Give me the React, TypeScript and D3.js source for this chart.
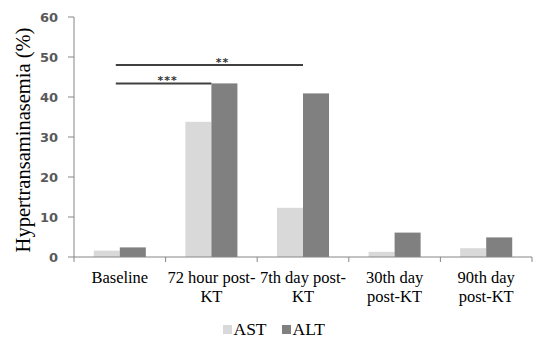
import React from "react";
import * as d3 from "d3";

const categories = ["Baseline", "72 hour post-KT", "7th day post-KT", "30th day post-KT", "90th day post-KT"];
const categoryLines = [["Baseline"], ["72 hour post-", "KT"], ["7th day post-", "KT"], ["30th day", "post-KT"], ["90th day", "post-KT"]];
const series = ["AST", "ALT"];
const astValues = [1.6, 33.8, 12.3, 1.3, 2.2];
const altValues = [2.4, 43.4, 40.9, 6.1, 4.9];
const yTicks = [0, 10, 20, 30, 40, 50, 60];
const colors = ["#d9d9d9", "#808080"];
const sigBrackets = [
  { from: 0, to: 2, level: 48, label: "**" },
  { from: 0, to: 1, level: 43.4, label: "***" },
];

export default function App() {
  const W = 550, H = 348;
  const x0 = 74, x1 = 532, yTop = 17, yBot = 257;
  const x = d3.scaleBand<string>().domain(categories).range([x0, x1]);
  const xi = d3.scaleBand<string>().domain(series).range([0, x.bandwidth()]).paddingOuter(0.76).paddingInner(0);
  const y = d3.scaleLinear().domain([0, 60]).range([yBot, yTop]);
  const vals = [astValues, altValues];
  const serif = "'Liberation Serif', 'Times New Roman', serif";
  const cx = (i: number) => (x(categories[i]) as number) + x.bandwidth() / 2;
  return (
    <svg width={W} height={H} style={{ position: "absolute", left: 0, top: 0, background: "#fff" }}>
      {categories.map((c, ci) =>
        series.map((s, si) => (
          <rect key={c + s} x={(x(c) as number) + (xi(s) as number)} y={y(vals[si][ci])}
            width={xi.bandwidth()} height={yBot - y(vals[si][ci])} fill={colors[si]} />
        ))
      )}
      {/* y axis */}
      <line x1={x0} x2={x0} y1={yTop} y2={yBot} stroke="#868686" strokeWidth={1} />
      {yTicks.map((t) => (
        <g key={t}>
          <line x1={x0 - 6} x2={x0} y1={y(t)} y2={y(t)} stroke="#868686" />
          <text x={x0 - 16} y={y(t)} dy="0.36em" textAnchor="end" fontFamily="'DejaVu Sans', sans-serif"
            fontWeight="bold" fontSize={13} fill="#595959">{t}</text>
        </g>
      ))}
      {/* x axis */}
      <line x1={x0} x2={x1} y1={yBot} y2={yBot} stroke="#868686" />
      {[...categories.map((c) => x(c) as number), x1].map((px, i) => (
        <line key={i} x1={px} x2={px} y1={yBot} y2={yBot + 5} stroke="#868686" />
      ))}
      {categories.map((c, ci) => (
        <text key={c} x={cx(ci)} y={283} textAnchor="middle"
          fontFamily={serif} fontSize={16.5} fill="#000">
          {categoryLines[ci].map((l, li) => (
            <tspan key={li} x={cx(ci)} dy={li === 0 ? 0 : 19}>{l}</tspan>
          ))}
        </text>
      ))}
      {/* y title */}
      <text transform={`translate(30,140) rotate(-90)`} textAnchor="middle"
        fontFamily={serif} fontSize={20.5} fill="#000">Hypertransaminasemia (%)</text>
      {/* significance */}
      {sigBrackets.map((b, i) => {
        const xa = cx(b.from) - 4;
        const xb = cx(b.to);
        const yy = y(b.level);
        const lx = b.to === 2 ? (xa + xb) / 2 + 13 : (xa + xb) / 2 + 4;
        return (
          <g key={i}>
            <line x1={xa} x2={xb} y1={yy} y2={yy} stroke="#404040" strokeWidth={2} />
            <text x={lx} y={yy + 1} textAnchor="middle" fontFamily="'DejaVu Sans', sans-serif"
              fontWeight="bold" fontSize={11} fill="#333" letterSpacing={1}>{b.label}</text>
          </g>
        );
      })}
      {/* legend */}
      {series.map((s, si) => (
        <g key={s} transform={`translate(${223 + si * 59},325)`}>
          <rect x={0} y={0} width={9} height={9} fill={colors[si]} />
          <text x={10.5} y={10} fontFamily={serif} fontSize={17.5} fill="#000">{s}</text>
        </g>
      ))}
    </svg>
  );
}
